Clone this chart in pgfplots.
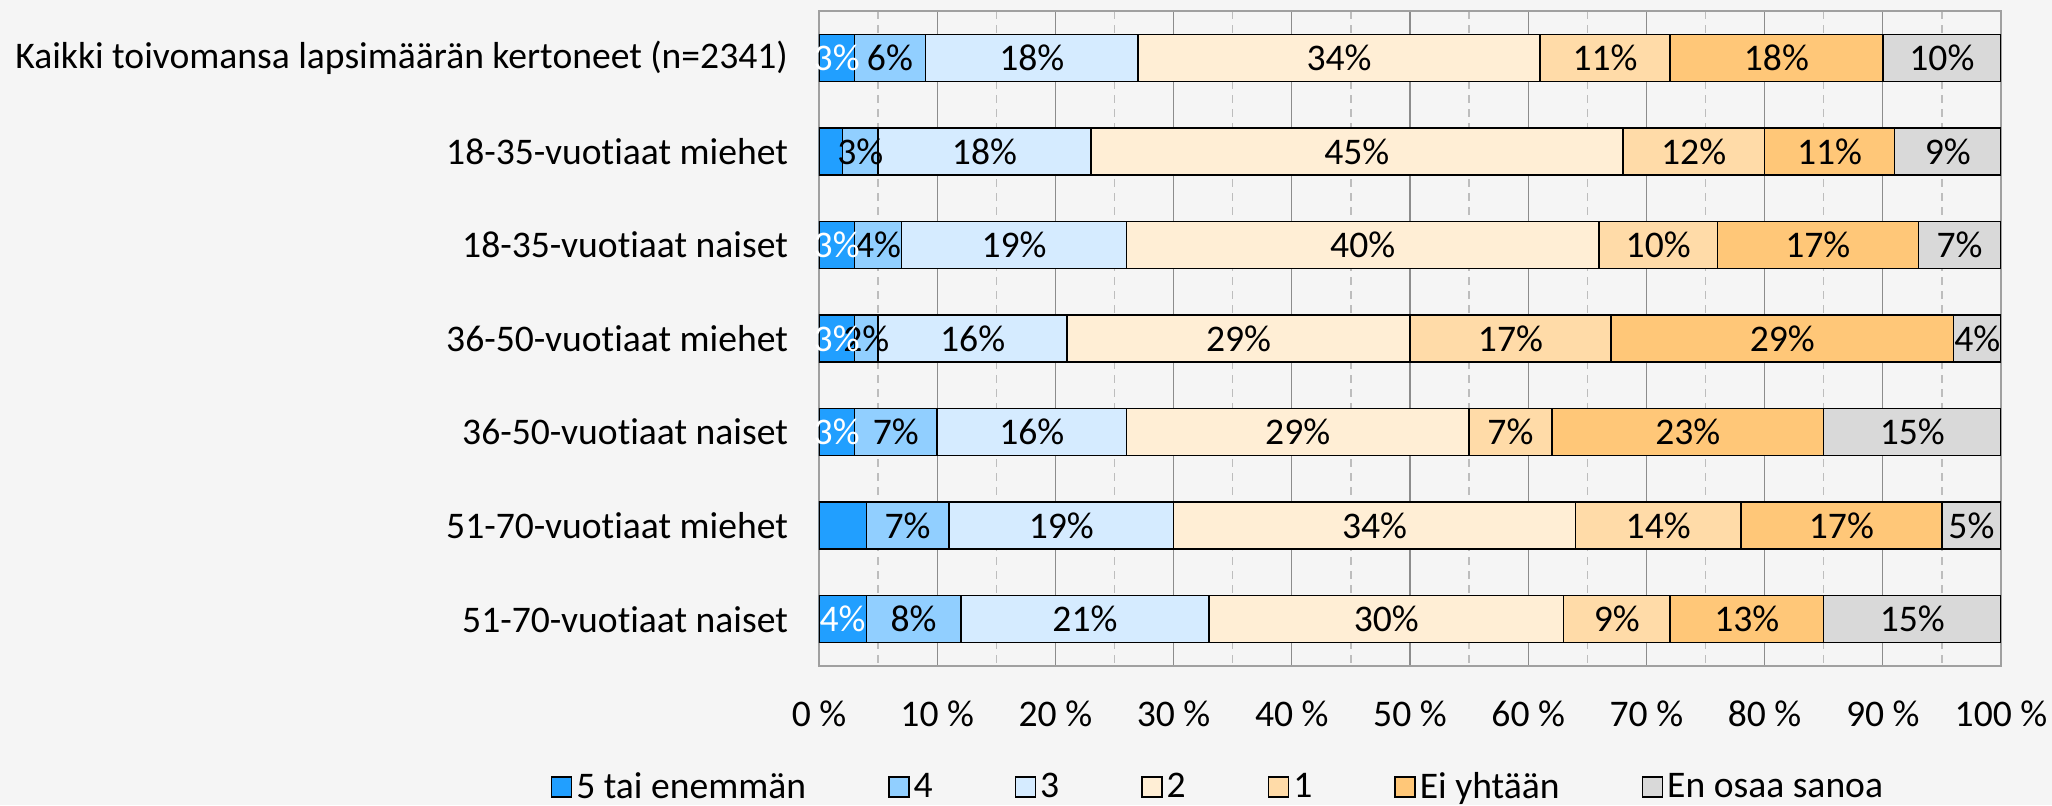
\documentclass[border=0pt]{standalone}
\usepackage{pgfplots}
\pgfplotsset{compat=1.18}
\usepackage{pgfplotstable}
\usepackage{fontspec}
\setmainfont{Carlito}[Ligatures=NoCommon]
\definecolor{c5}{HTML}{219FFF}
\definecolor{c4}{HTML}{91CFFF}
\definecolor{c3}{HTML}{D5EBFF}
\definecolor{c2}{HTML}{FFEED5}
\definecolor{c1}{HTML}{FFDBA8}
\definecolor{cei}{HTML}{FFC778}
\definecolor{ceos}{HTML}{D9D9D9}
\definecolor{bg}{HTML}{F5F5F5}
\definecolor{gridc}{HTML}{8C8C8C}
\definecolor{minorc}{HTML}{BDBDBD}
\definecolor{framec}{HTML}{A0A0A0}

\pgfplotstableread{
row a b c d e f g s
0 3 6 18 34 11 18 10 1
1 2 3 18 45 12 11 9 0
2 3 4 19 40 10 17 7 1
3 3 2 16 29 17 29 4 1
4 3 7 16 29 7 23 15 1
5 4 7 19 34 14 17 5 0
6 4 8 21 30 9 13 15 1
}\data

\begin{document}
\begin{tikzpicture}[font=\fontsize{18.8}{22}\selectfont]
\fill[bg] (-409.5pt,-69.5pt) rectangle (616.5pt,333pt);
\begin{axis}[
  at={(0pt,0pt)}, anchor=south west,
  width=591pt, height=327.5pt, scale only axis,
  font=\fontsize{18.8}{22}\selectfont,
  xbar stacked, bar width=23.5pt,
  xmin=0, xmax=100, ymin=-0.5, ymax=6.5, y dir=reverse,
  xtick={0,10,...,100},
  xticklabels={0 \%,10 \%,20 \%,30 \%,40 \%,50 \%,60 \%,70 \%,80 \%,90 \%,100 \%},
  minor x tick num=1,
  ytick={0,...,6},
  yticklabels={Kaikki toivomansa lapsimäärän kertoneet (n=2341),18-35-vuotiaat miehet,18-35-vuotiaat naiset,36-50-vuotiaat miehet,36-50-vuotiaat naiset,51-70-vuotiaat miehet,51-70-vuotiaat naiset},
  major tick length=0pt, minor tick length=0pt,
  xmajorgrids, xminorgrids,
  major grid style={draw=gridc, line width=0.65pt},
  minor grid style={draw=minorc, line width=0.65pt, dash pattern=on 4pt off 3pt},
  axis line style={draw=framec, line width=0.75pt},
  xticklabel style={yshift=-14pt},
  yticklabel style={xshift=-12pt},
  seg/.style 2 args={fill=#2, draw=black, line width=0.75pt, visualization depends on={\thisrow{#1} \as \segval}},
  nodes near coords={\pgfmathprintnumber[assume math mode=true]{\segval}\%},
  every node near coord/.append style={anchor=center, text=black, inner sep=0pt, font=\fontsize{18.8}{22}\selectfont},
  legend columns=7,
  legend image code/.code={\draw[#1, line width=0.75pt] (0pt,-5pt) rectangle (10pt,5pt);},
  legend style={at={(0.3384,-0.1845)}, anchor=center, draw=none, fill=none,
    font=\fontsize{18.8}{22}\selectfont,
    /tikz/every even column/.append style={column sep=39pt}},
]
\addplot[seg={a}{c5}, visualization depends on={\thisrow{s} \as \flag},
  nodes near coords={\ifdim\flag pt>0.5pt \pgfmathprintnumber[assume math mode=true]{\segval}\%\fi},
  every node near coord/.append style={text=white}] table[x=a,y=row]{\data};
\addplot[seg={b}{c4}] table[x=b,y=row]{\data};
\addplot[seg={c}{c3}] table[x=c,y=row]{\data};
\addplot[seg={d}{c2}] table[x=d,y=row]{\data};
\addplot[seg={e}{c1}] table[x=e,y=row]{\data};
\addplot[seg={f}{cei}] table[x=f,y=row]{\data};
\addplot[seg={g}{ceos}] table[x=g,y=row]{\data};
\legend{5 tai enemmän,4,3,2,1,Ei yhtään,En osaa sanoa}
\end{axis}
\pgfresetboundingbox
\path (-409.5pt,-69.5pt) rectangle (616.5pt,333pt);
\end{tikzpicture}
\end{document}
